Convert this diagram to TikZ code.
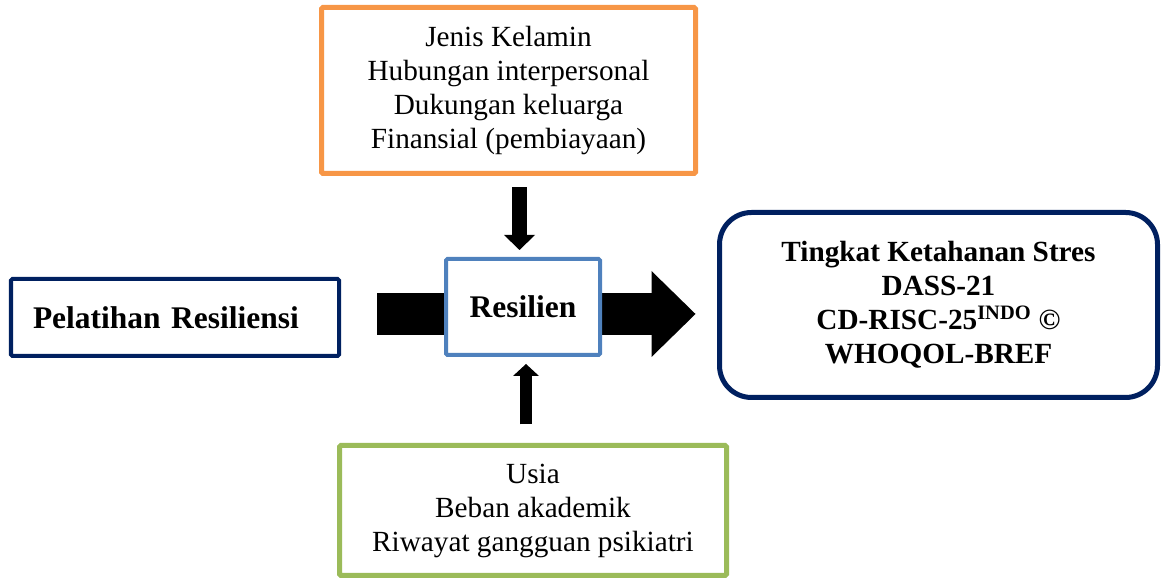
\documentclass[tikz,border=0pt]{standalone}
\usepackage{fontspec}
\setmainfont{Liberation Serif}
\usetikzlibrary{arrows.meta, calc}
\definecolor{factororange}{RGB}{247, 150, 70}
\definecolor{resblue}{RGB}{79, 129, 189}
\definecolor{navyblue}{RGB}{0, 32, 96}
\definecolor{factorgreen}{RGB}{155, 187, 89}

\tikzset{
  factorbox/.style={draw, line width=0.125cm, rounded corners=1pt, align=center, fill=white, font=\fontsize{20.8}{24.2}\selectfont},
  titlebox/.style={draw, line width=0.1cm, rounded corners=1pt, align=center, fill=white, font=\fontsize{22.4}{26}\selectfont\bfseries},
  fatarrow/.style n args={3}{line width=#1, -{Triangle[width=#2 0, length=#3 0, line width=0pt]}}
}

\begin{document}
\begin{tikzpicture}
  \useasboundingbox (0, 0) rectangle (29.05, 14.5);

  % Influencing factors
  \node[factorbox, draw=factororange, minimum width=9.35cm, minimum height=4.15cm] (upper) at (12.7125, 12.2375) {
    Jenis Kelamin\\
    Hubungan interpersonal\\
    Dukungan keluarga\\
    Finansial (pembiayaan)
  };
  \node[factorbox, draw=factorgreen, minimum width=9.675cm, minimum height=3.25cm] (lower) at (13.325, 1.7375) {
    Usia\\
    Beban akademik\\
    Riwayat gangguan psikiatri
  };

  % Intervention and outcome
  \node[titlebox, draw=navyblue, text width=7.1cm, align=left, inner xsep=0.55cm, minimum height=1.925cm] (training) at (4.375, 6.5625) {Pelatihan Resiliensi};
  \node[factorbox, draw=navyblue, rounded corners=0.8cm, font=\fontsize{20.8}{24.2}\selectfont\bfseries, minimum width=10.95cm, minimum height=4.625cm] (outcome) at (23.4625, 6.875) {
    Tingkat Ketahanan Stres\\
    DASS-21\\
    CD-RISC-25\textsuperscript{INDO} ©\\
    WHOQOL-BREF
  };

  % Main flow arrow (behind the resilience box)
  \draw[fatarrow={1.05cm}{2.15cm}{1.1cm}, shorten <=0.9cm, shorten >=0.5375cm]
    ($(training.east)+(0, 0.0875)$) -- ($(training.east -| outcome.west)+(0, 0.0875)$);

  \node[titlebox, draw=resblue, minimum width=3.85cm, minimum height=2.4cm] (resilien) at (13.075, 6.825) {Resilien};

  % Factor arrows
  \draw[fatarrow={0.375cm}{0.775cm}{0.375cm}, shorten <=0.2875cm, shorten >=0.175cm]
    ($(resilien.north |- upper.south)+(-0.0875, 0)$) -- ($(resilien.north)+(-0.0875, 0)$);
  \draw[fatarrow={0.3cm}{0.65cm}{0.3cm}, shorten <=0.4625cm, shorten >=0.175cm]
    ($(resilien.south |- lower.north)+(0.075, 0)$) -- ($(resilien.south)+(0.075, 0)$);
\end{tikzpicture}
\end{document}
